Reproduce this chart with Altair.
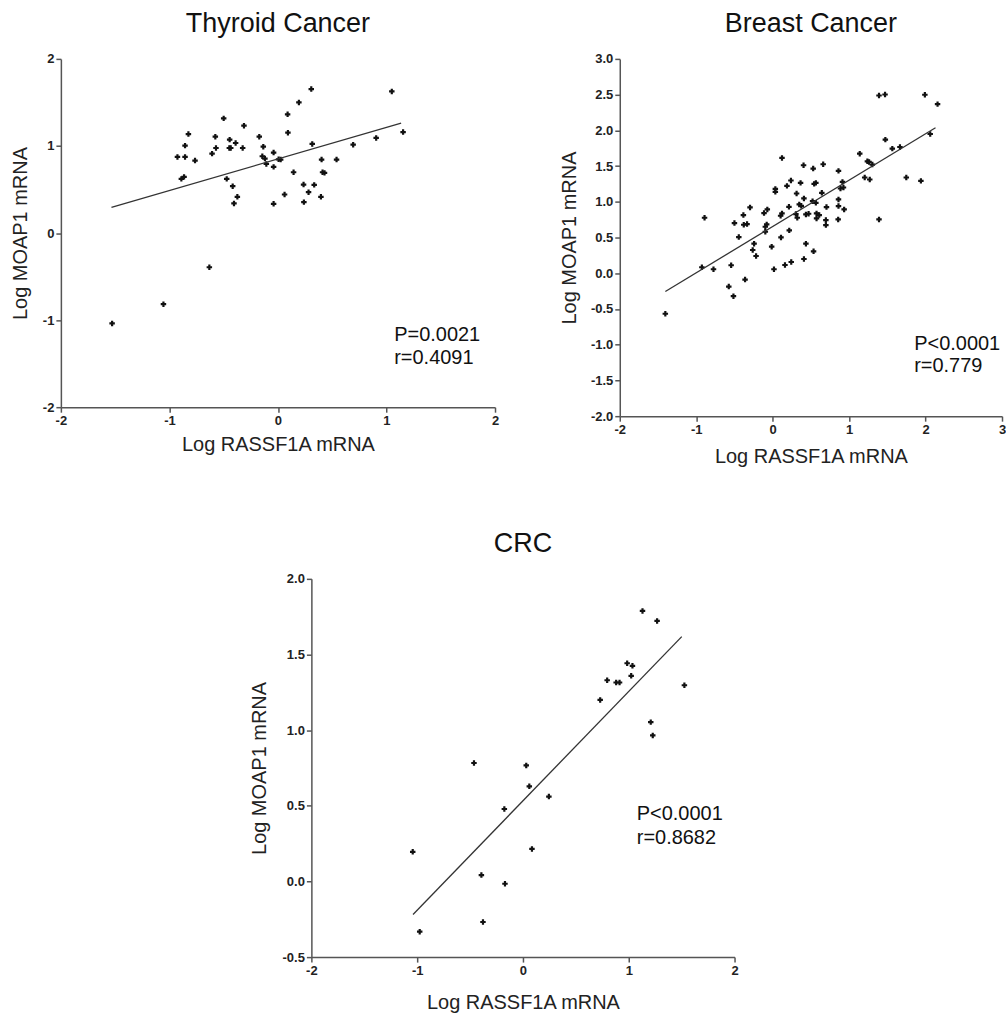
import altair as alt
import pandas as pd

FONT = "Liberation Sans"

# ---------------- Thyroid Cancer ----------------
thy_x = [-1.528, -1.055, -0.632, -0.926, -0.856, -0.856, -0.825, -0.764, -0.890, -0.865,
         -0.500, -0.577, -0.571, -0.607, -0.445, -0.448, -0.390, -0.325, -0.313, -0.472,
         -0.417, -0.374, -0.405, -0.172, -0.135, -0.144, -0.120, -0.107, -0.040, -0.040,
         0.006, 0.025, -0.040, 0.061, 0.089, 0.092, 0.193, 0.307, 0.144, 0.316,
         0.236, 0.334, 0.282, 0.239, 0.396, 0.402, 0.411, 0.429, 0.540, 0.693,
         0.905, 1.049, 1.153, -0.435]
thy_y = [-1.038, -0.817, -0.393, 0.874, 0.874, 1.004, 1.137, 0.832, 0.622, 0.645,
         1.317, 1.107, 0.977, 0.912, 1.073, 0.977, 1.034, 0.977, 1.233, 0.622,
         0.538, 0.416, 0.340, 1.107, 0.992, 0.882, 0.855, 0.794, 0.924, 0.760,
         0.847, 0.844, 0.336, 0.443, 1.363, 1.153, 1.500, 1.653, 0.698, 1.023,
         0.557, 0.553, 0.469, 0.355, 0.416, 0.844, 0.698, 0.691, 0.844, 1.015,
         1.092, 1.626, 1.160, 0.977]
thy_fit_x = [-1.534, 1.135]
thy_fit_y = [0.294, 1.263]
thy_stats = ["P=0.0021", "r=0.4091"]

# ---------------- Breast Cancer ----------------
br_x = [-1.404, -0.891, -0.926, -0.774, -0.543, -0.574, -0.513, -0.361, -0.500, -0.443,
        -0.383, -0.378, -0.335, -0.296, -0.243, -0.261, -0.217, -0.113, -0.070, -0.096,
        -0.078, -0.096, -0.013, 0.017, 0.035, 0.035, 0.109, 0.122, 0.122, 0.104,
        0.161, 0.243, 0.217, 0.213, 0.187, 0.239, 0.313, 0.304, 0.322, 0.365,
        0.404, 0.409, 0.435, 0.374, 0.409, 0.435, 0.535, 0.530, 0.543, 0.565,
        0.522, 0.565, 0.348, 0.574, 0.609, 0.574, 0.643, 0.661, 0.696, 0.696,
        0.704, 0.861, 0.913, 0.887, 0.926, 0.861, 0.861, 0.935, 0.857, 1.139,
        1.204, 1.270, 1.239, 1.304, 1.261, 1.391, 1.474, 1.391, 1.470, 1.565,
        1.665, 1.748, 1.939, 1.991, 2.061, 2.157, 0.470]
br_y = [-0.567, 0.777, 0.084, 0.056, 0.112, -0.186, -0.321, -0.088, 0.702, 0.507,
        0.814, 0.679, 0.688, 0.921, 0.414, 0.326, 0.242, 0.842, 0.893, 0.651,
        0.684, 0.581, 0.372, 0.056, 1.181, 1.140, 0.502, 1.614, 0.837, 0.805,
        0.116, 0.158, 0.600, 0.930, 1.223, 1.298, 1.116, 0.828, 0.777, 1.265,
        1.512, 0.200, 0.414, 0.944, 1.047, 0.823, 0.307, 1.465, 1.251, 1.265,
        1.009, 0.986, 0.963, 0.837, 0.814, 0.767, 1.126, 1.526, 0.744, 0.674,
        0.926, 1.433, 1.279, 1.186, 1.200, 1.033, 0.940, 0.893, 0.753, 1.674,
        1.340, 1.312, 1.567, 1.521, 1.558, 0.753, 1.870, 2.488, 2.502, 1.744,
        1.767, 1.340, 1.293, 2.498, 1.949, 2.367, 0.833]
br_fit_x = [-1.404, 2.130]
br_fit_y = [-0.256, 2.037]
br_stats = ["P<0.0001", "r=0.779"]

# ---------------- CRC ----------------
crc_x = [-1.042, -0.976, -0.463, -0.393, -0.378, -0.176, -0.170, 0.031, 0.060, 0.085,
         0.245, 0.730, 0.796, 0.881, 0.913, 0.985, 1.035, 1.023, 1.130, 1.268,
         1.208, 1.227, 1.526]
crc_y = [0.196, -0.332, 0.783, 0.042, -0.268, 0.479, -0.015, 0.767, 0.629, 0.215,
         0.561, 1.200, 1.330, 1.315, 1.315, 1.442, 1.425, 1.359, 1.788, 1.722,
         1.053, 0.965, 1.297]
crc_fit_x = [-1.039, 1.501]
crc_fit_y = [-0.218, 1.618]
crc_stats = ["P<0.0001", "r=0.8682"]

X_TITLE = "Log RASSF1A mRNA"
Y_TITLE = "Log MOAP1 mRNA"

AX_COLOR = "#555555"


def label_expr(fmt):
    return ("datum.value < 0 ? '-' + format(-datum.value, '%s') : format(datum.value, '%s')"
            % (fmt, fmt))


def panel(title, xs, ys, fx, fy, stats, xdom, ydom, xticks, yticks, yfmt,
          w, h, stat_x, stat_y, line_h, x_tp, y_tp):
    pts = pd.DataFrame({"x": xs, "y": ys})
    fit = pd.DataFrame({"x": fx, "y": fy})
    xs_ = alt.Scale(domain=xdom, nice=False, zero=False)
    ys_ = alt.Scale(domain=ydom, nice=False, zero=False)
    xaxis = alt.Axis(values=xticks, tickCount=40, title=X_TITLE, labelExpr=label_expr("d"),
                     titlePadding=x_tp, grid=False, labelFlush=False, labelOverlap=False)
    yaxis = alt.Axis(values=yticks, tickCount=40, title=Y_TITLE, labelExpr=label_expr(yfmt),
                     titlePadding=y_tp, grid=False, labelFlush=False, labelOverlap=False)

    points = alt.Chart(pts).mark_point(
        shape="cross", filled=True, size=30, color="#111111", opacity=1
    ).encode(
        x=alt.X("x:Q", scale=xs_, axis=xaxis),
        y=alt.Y("y:Q", scale=ys_, axis=yaxis),
    )
    line = alt.Chart(fit).mark_line(color="#333333", strokeWidth=1.3).encode(
        x=alt.X("x:Q", scale=xs_, axis=xaxis),
        y=alt.Y("y:Q", scale=ys_, axis=yaxis),
    )
    txt = alt.Chart(pd.DataFrame({"a": [0]})).mark_text(
        align="left", baseline="alphabetic", font=FONT, fontSize=20,
        lineHeight=line_h, color="#111111"
    ).encode(
        x=alt.value(stat_x), y=alt.value(stat_y), text=alt.value(stats)
    )
    return alt.layer(points, line, txt).properties(
        width=w, height=h,
        title=alt.TitleParams(title, font=FONT, fontSize=27, fontWeight="normal",
                              color="#111111", anchor="middle", offset=15),
    )


p1 = panel("Thyroid Cancer", thy_x, thy_y, thy_fit_x, thy_fit_y, thy_stats,
           [-2, 2], [-2, 2], [-2, -1, 0, 1, 2], [-2, -1, 0, 1, 2], "d",
           435, 349, 334, 283, 23, 7, 12)
p2 = panel("Breast Cancer", br_x, br_y, br_fit_x, br_fit_y, br_stats,
           [-2, 3], [-2, 3], [-2, -1, 0, 1, 2, 3],
           [-2, -1.5, -1, -0.5, 0, 0.5, 1, 1.5, 2, 2.5, 3], ".1f",
           383, 358, 295, 292, 22, 10, 11)
p3 = panel("CRC", crc_x, crc_y, crc_fit_x, crc_fit_y, crc_stats,
           [-2, 2], [-0.5, 2.0], [-2, -1, 0, 1, 2],
           [-0.5, 0, 0.5, 1, 1.5, 2], ".1f",
           424, 379, 326, 242, 24, 15, 13)

spacer = alt.Chart(pd.DataFrame({"a": [0]})).mark_rect(opacity=0).encode(
    x=alt.value(0), x2=alt.value(188), y=alt.value(0), y2=alt.value(1)
).properties(width=188, height=1)

row1 = alt.hconcat(p1, p2, spacing=60)
row2 = alt.hconcat(spacer, p3, spacing=0)

chart = alt.vconcat(row1, row2, spacing=64).properties(
    padding={"left": 10, "top": 9, "right": 0, "bottom": 0},
    background="white",
).configure_view(stroke=None).configure_axis(
    domainColor=AX_COLOR, domainWidth=1.5, tickColor=AX_COLOR, tickWidth=1.5,
    tickSize=5, labelFont=FONT, labelFontSize=13, labelFontWeight="bold",
    labelColor="#222222", labelPadding=2, titleFont=FONT, titleFontSize=20,
    titleFontWeight="normal", titleColor="#222222",
)

chart.save("out.html", embed_options={"renderer": "svg", "actions": False})
